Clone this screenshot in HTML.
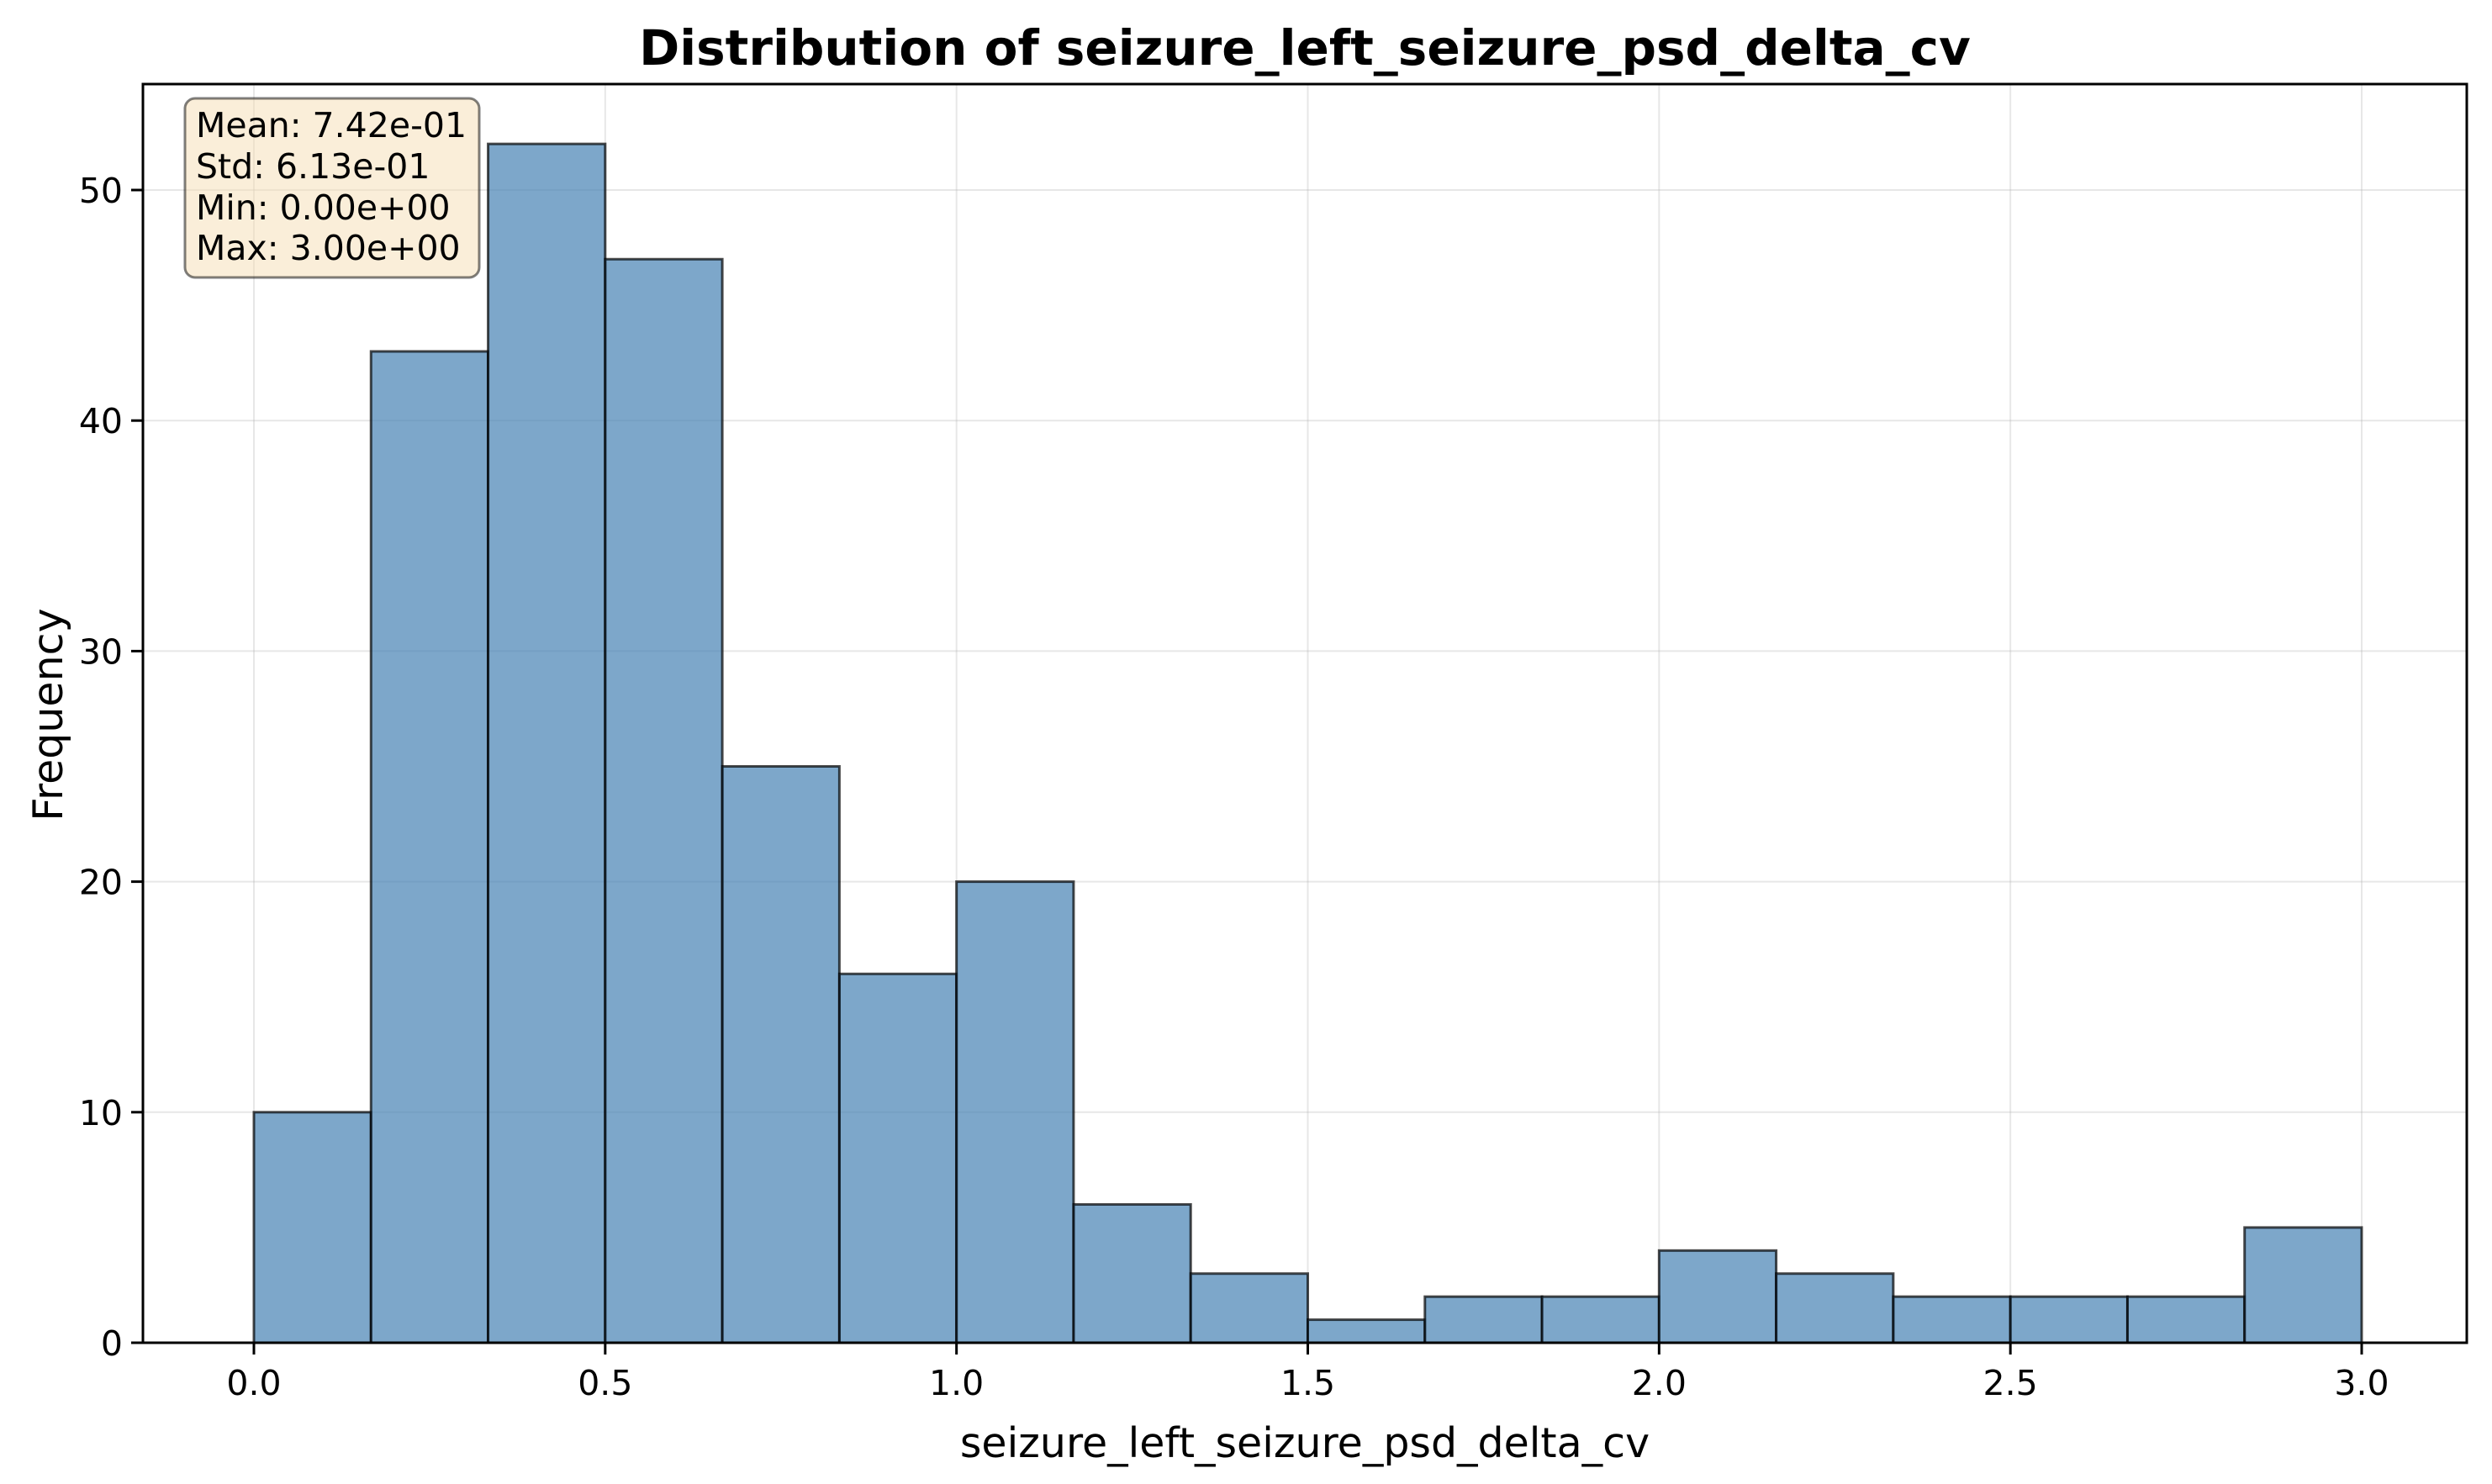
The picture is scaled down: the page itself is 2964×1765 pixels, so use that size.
<!DOCTYPE html>
<html><head><meta charset="utf-8"><style>
html,body{margin:0;padding:0;background:#fff;}
svg{display:block;font-family:"DejaVu Sans","Liberation Sans",sans-serif;}
</style></head><body>
<svg id="chart" width="2964" height="1765" viewBox="0 0 2964 1765" xmlns="http://www.w3.org/2000/svg">
<rect x="0" y="0" width="2964" height="1765" fill="#fff"/>
<text x="1552" y="77" font-size="58" font-weight="bold" text-anchor="middle">Distribution of seizure_left_seizure_psd_delta_cv</text>
<g id="grid"></g>
<g id="bars"></g>
<g id="axes"></g>
<text x="1552" y="1733" font-size="49" text-anchor="middle">seizure_left_seizure_psd_delta_cv</text>
<text transform="translate(74,850) rotate(-90)" font-size="49" text-anchor="middle">Frequency</text>
<g>
<rect x="220" y="117" width="350" height="213" rx="12" fill="#f5deb3" fill-opacity="0.5" stroke="#000" stroke-opacity="0.5" stroke-width="3"/>
<text font-size="41" x="233" y="163">Mean: 7.42e-01</text>
<text font-size="41" x="233" y="212">Std: 6.13e-01</text>
<text font-size="41" x="233" y="261">Min: 0.00e+00</text>
<text font-size="41" x="233" y="309">Max: 3.00e+00</text>
</g>
</svg>
<script>
const binStart = 0;
const binWidth = 1/6;
const counts = [10,43,52,47,25,16,20,6,3,1,2,2,4,3,2,2,2,5];
const xTicks = [0.0,0.5,1.0,1.5,2.0,2.5,3.0];
const xTickLabels = ["0.0","0.5","1.0","1.5","2.0","2.5","3.0"];
const yTicks = [0,10,20,30,40,50];
const yTickLabels = ["0","10","20","30","40","50"];

const NS="http://www.w3.org/2000/svg";
const L=170,R=2934,T=100,B=1597;
const xs=v=>302+(v-0)*(2809-302)/3;
const ys=v=>1597-v*(1597-226)/50;
function mk(tag,attrs,parent){const e=document.createElementNS(NS,tag);for(const k in attrs)e.setAttribute(k,attrs[k]);parent.appendChild(e);return e;}
const grid=document.getElementById('grid'),bars=document.getElementById('bars'),axes=document.getElementById('axes');
xTicks.forEach((t,i)=>{
  const g=mk('line',{x1:xs(t),x2:xs(t),y1:T,y2:B,stroke:'#b0b0b0','stroke-opacity':0.3,'stroke-width':2},grid);
  
  
});
yTicks.forEach((t,i)=>{
  const g=mk('line',{x1:L,x2:R,y1:ys(t),y2:ys(t),stroke:'#b0b0b0','stroke-opacity':0.3,'stroke-width':2},grid);
  
  
});
counts.forEach((c,i)=>{
  const x0=xs(binStart+i*binWidth),x1=xs(binStart+(i+1)*binWidth);
  const r=mk('rect',{x:x0,y:ys(c),width:x1-x0,height:ys(0)-ys(c),fill:'#4682b4','fill-opacity':0.7,stroke:'#000','stroke-opacity':0.7,'stroke-width':3},bars);
  
  
});
const frame=mk('rect',{x:L,y:T,width:R-L,height:B-T,fill:'none',stroke:'#000','stroke-width':3},axes);


xTicks.forEach((t,i)=>{
  mk('line',{x1:xs(t),x2:xs(t),y1:B,y2:B+14,stroke:'#000','stroke-width':3},axes);
  const tx=mk('text',{x:xs(t),y:B+62,'font-size':41,'text-anchor':'middle'},axes);
  tx.textContent=xTickLabels[i];
  
  
});
yTicks.forEach((t,i)=>{
  mk('line',{x1:L-14,x2:L,y1:ys(t),y2:ys(t),stroke:'#000','stroke-width':3},axes);
  const tx=mk('text',{x:L-24,y:ys(t)+15,'font-size':41,'text-anchor':'end'},axes);
  tx.textContent=yTickLabels[i];
  
  
});
</script>
</body></html>
